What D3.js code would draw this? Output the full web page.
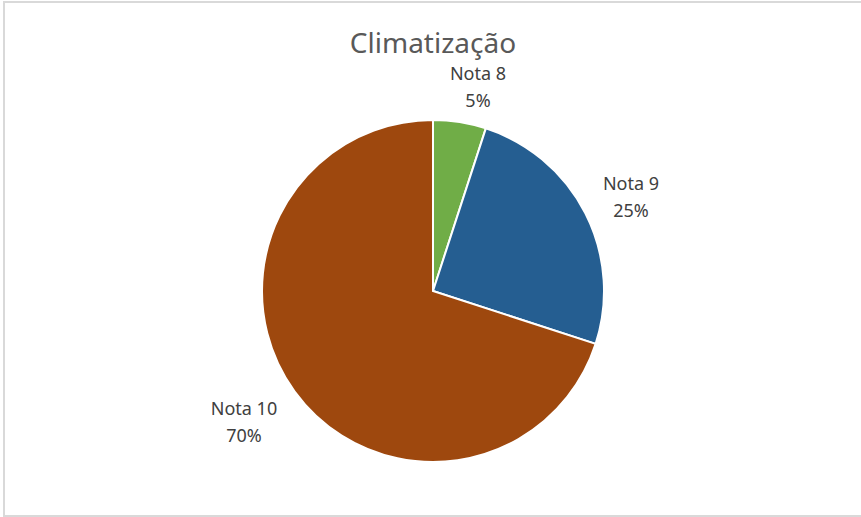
<!DOCTYPE html>
<html>
<head>
<meta charset="utf-8">
<script src="https://cdn.jsdelivr.net/npm/d3@7"></script>
<style>
  body { margin: 0; background: #fff; }
  text { font-family: "Noto Sans", "Open Sans", sans-serif; }
</style>
</head>
<body>
<div id="chart"></div>
<script>
// data
var categories = ["Nota 8", "Nota 9", "Nota 10"];
var values = [5, 25, 70];
var colors = ["#70AD47", "#255E91", "#9E480E"];
var labelPos = [[478, 73], [631, 183], [244, 408]];

var width = 861, height = 517;
var cx = 433, cy = 291, radius = 171;

var svg = d3.select("#chart")
  .append("svg")
    .attr("width", width)
    .attr("height", height);

// chart border
svg.append("rect")
  .attr("x", 4).attr("y", 2)
  .attr("width", width + 10).attr("height", 514)
  .attr("fill", "none")
  .attr("stroke", "#d9d9d9")
  .attr("stroke-width", 2);

// title
svg.append("text")
  .attr("x", cx).attr("y", 53)
  .attr("text-anchor", "middle")
  .style("font-size", "28px")
  .style("fill", "#595959")
  .text("Climatização");

var pie = d3.pie().sort(null).value(function (d) { return d; });
var arc = d3.arc().innerRadius(0).outerRadius(radius);

var g = svg.append("g")
  .attr("transform", "translate(" + cx + "," + cy + ")");

g.selectAll("path")
  .data(pie(values))
  .enter()
  .append("path")
    .attr("d", arc)
    .style("fill", function (d, i) { return colors[i]; })
    .style("stroke", "#fff")
    .style("stroke-width", 2);

// labels
var lab = svg.append("g").selectAll("text")
  .data(categories)
  .enter()
  .append("text")
    .attr("text-anchor", "middle")
    .style("font-size", "18px")
    .style("fill", "#404040");

lab.append("tspan")
  .attr("x", function (d, i) { return labelPos[i][0]; })
  .attr("y", function (d, i) { return labelPos[i][1] + 7; })
  .text(function (d) { return d; });

lab.append("tspan")
  .attr("x", function (d, i) { return labelPos[i][0]; })
  .attr("y", function (d, i) { return labelPos[i][1] + 34; })
  .text(function (d, i) { return values[i] + "%"; });
</script>
</body>
</html>
